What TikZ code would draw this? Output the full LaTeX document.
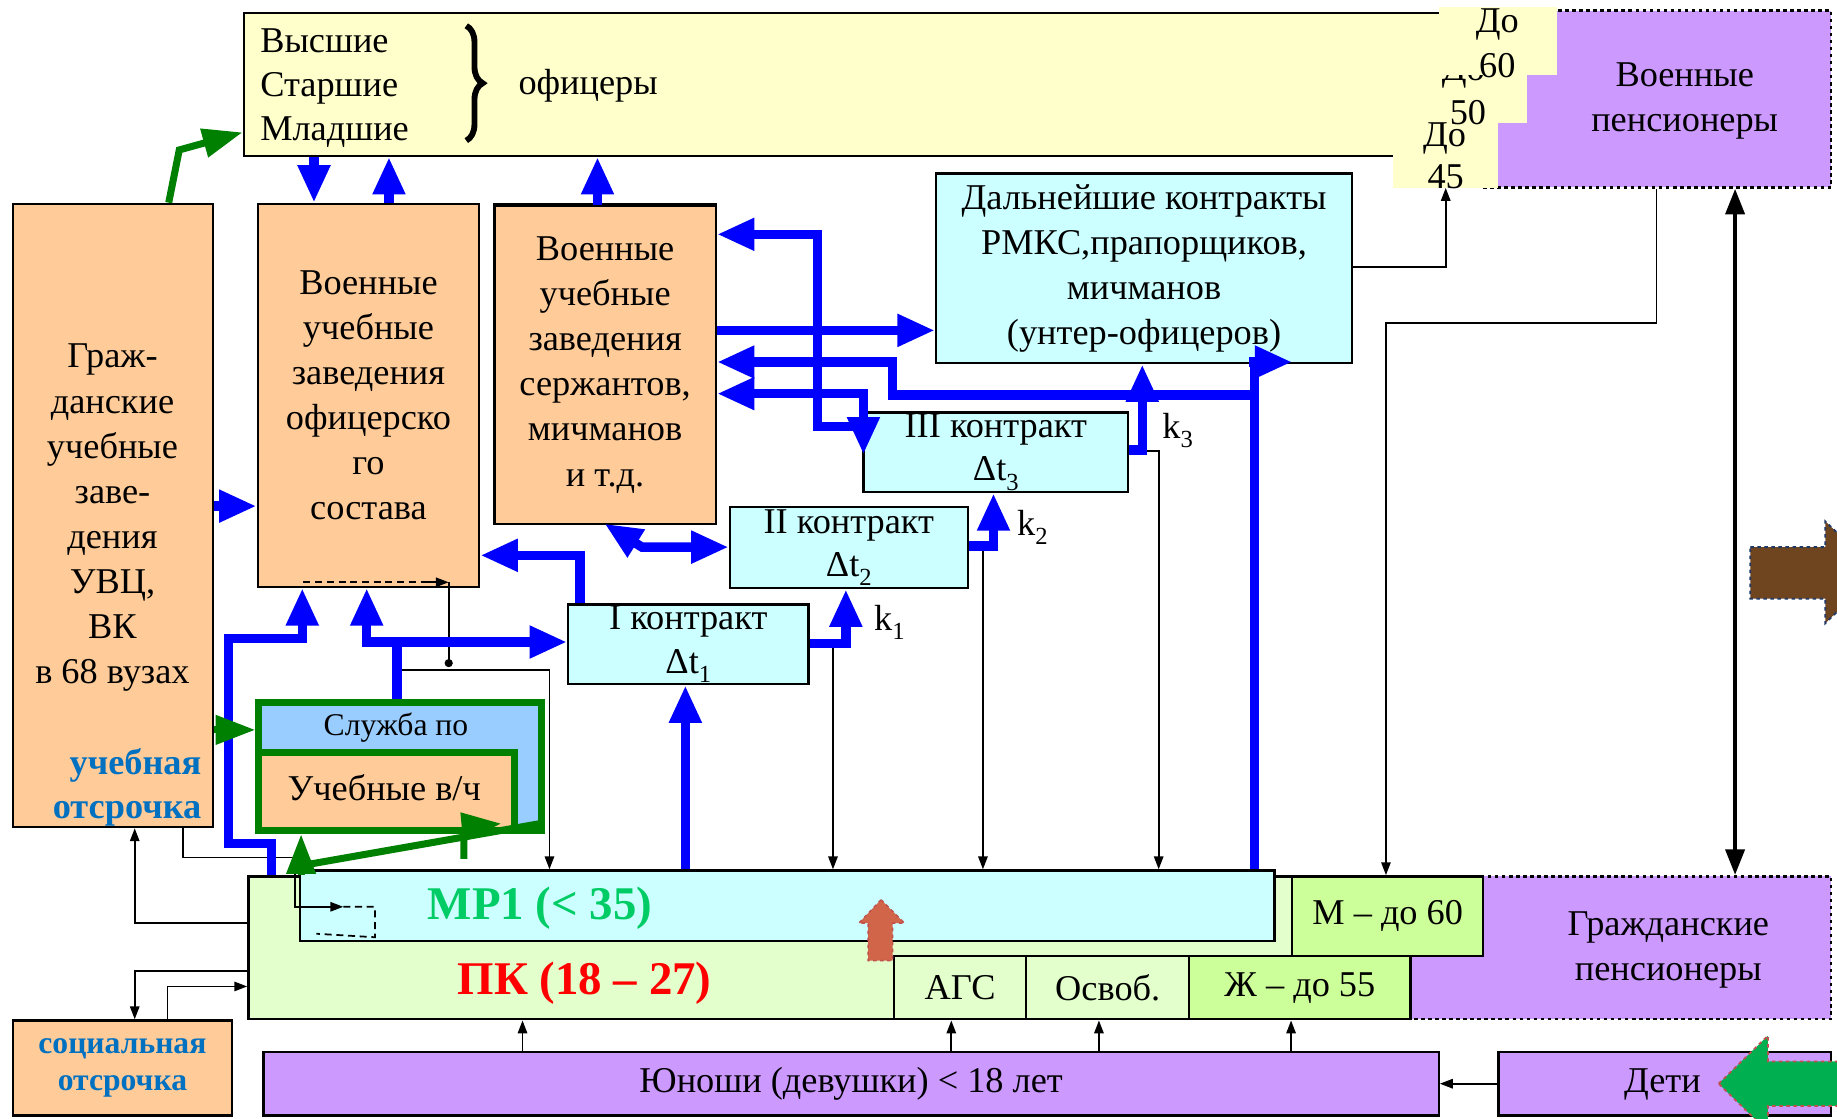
\documentclass[tikz,border=0pt]{standalone}
\usepackage{fontspec}
\setmainfont{Liberation Serif}
\usetikzlibrary{arrows.meta,decorations.pathreplacing}
\definecolor{yel}{HTML}{FFFFCC}
\definecolor{pur}{HTML}{CC99FF}
\definecolor{pea}{HTML}{FFCC99}
\definecolor{cya}{HTML}{CCFFFF}
\definecolor{lgr}{HTML}{E2FFCC}
\definecolor{mgr}{HTML}{CCFF99}
\definecolor{sblue}{HTML}{99CCFF}
\definecolor{bline}{HTML}{0000FF}
\definecolor{gline}{HTML}{008000}
\definecolor{mrtext}{HTML}{00CC66}
\definecolor{btext}{HTML}{0070C0}
\definecolor{brn}{HTML}{6F4520}
\definecolor{garr}{HTML}{00B050}
\definecolor{rarr}{HTML}{D0654A}
\definecolor{dblue}{HTML}{1F3864}
\definecolor{dred}{HTML}{C0504D}
\newcommand\mysub[1]{\raisebox{-8pt}{\fontsize{21}{21}\selectfont #1}}
\begin{document}
\begin{tikzpicture}[x=1pt,y=-1pt,
  bx/.style={draw, line width=2pt, inner sep=0pt, anchor=north west, font=\fontsize{31}{38.5}\selectfont, align=center},
  fl/.style={draw=none, inner sep=0pt, anchor=north west},
  tx/.style={inner sep=0pt, font=\fontsize{31}{38.5}\selectfont, align=center},
  th/.style={draw=black, line width=1.5pt, -{Triangle[length=11pt,width=8pt]}},
  bl/.style={draw=bline, line width=8pt, -{Triangle[length=32pt,width=26pt]}},
  blb/.style={draw=bline, line width=8pt, {Triangle[length=32pt,width=26pt]}-{Triangle[length=32pt,width=26pt]}},
  gr/.style={draw=gline, line width=6pt, -{Triangle[length=34pt,width=24pt]}},
  dsh/.style={line width=1.5pt, dash pattern=on 6pt off 4pt}
]
\useasboundingbox (0,0) rectangle (1568,955);
\clip (0,0) rectangle (1568,955);
\fill[white] (0,0) rectangle (1568,955);

% ---------- top row
\node[bx, fill=yel, minimum width=1053pt, minimum height=122pt] (top) at (207,10) {};
\node[bx, dashed, fill=pur, minimum width=297pt, minimum height=151pt] (vpens) at (1265,8) {};
\node[fl, fill=yel, minimum width=98pt, minimum height=60pt] (d2) at (1205,45) {};
\node[tx] (d2a) at (1249,62) {До};
\node[fl, fill=yel, minimum width=101pt, minimum height=58pt] (d1) at (1228,6) {};
\node[fl, fill=yel, minimum width=89pt, minimum height=56pt] (d3) at (1189,104) {};
\node[tx] (d1a) at (1278,21) {До};
\node[tx] (d1b) at (1278,56) {60};
\node[tx] (d2b) at (1253,96) {50};
\node[tx] (d3a) at (1233,118) {До};
\node[tx] (d3b) at (1234,151) {45};
\node[tx] (vpt) at (1438,86) {Военные\\пенсионеры};
\node[tx, align=left, anchor=west, font=\fontsize{31}{37.5}\selectfont] (ranks) at (222,75) {Высшие\\Старшие\\Младшие};
\node[tx] (ofc) at (502,73) {офицеры};
\draw[line width=5pt, decorate, decoration={brace, amplitude=14pt}] (398,22) -- (398,120);

% ---------- schools and contracts
\node[bx, fill=pea, minimum width=171pt, minimum height=532pt] (grazh) at (10,173) {};
\node[tx] (grazht) at (96,442) {Граж-\\данские\\учебные\\заве-\\дения\\УВЦ,\\ВК\\в 68 вузах};
\node[tx, align=right, anchor=east, text=btext, font=\fontsize{31}{38}\selectfont\bfseries] (uotsr) at (172,672) {учебная\\отсрочка};
\node[bx, fill=pea, minimum width=189pt, minimum height=327pt] (ofs) at (219,173) {Военные\\учебные\\заведения\\офицерско\\го\\состава};
\node[bx, fill=pea, minimum width=189pt, minimum height=271pt] (sgt) at (421,175) {Военные\\учебные\\заведения\\сержантов,\\мичманов\\и т.д.};
\draw[line width=3.5pt] (sgt.north west) -- (sgt.north east);
\node[bx, fill=cya, minimum width=355pt, minimum height=162pt] (dal) at (798,147) {Дальнейшие контракты\\РМКС,прапорщиков,\\мичманов\\(унтер-офицеров)};
\node[bx, fill=cya, minimum width=226pt, minimum height=68pt, font=\fontsize{31}{37}\selectfont] (k3box) at (736,351) {III контракт\\Δt\mysub{3}};
\node[bx, fill=cya, minimum width=203pt, minimum height=69pt, font=\fontsize{31}{37}\selectfont] (k2box) at (622,432) {II контракт\\Δt\mysub{2}};
\node[bx, fill=cya, minimum width=205pt, minimum height=68pt, font=\fontsize{31}{37}\selectfont] (k1box) at (484,515) {I контракт\\Δt\mysub{1}};
\node[tx, anchor=base west] (k1) at (746,538) {k\mysub{1}};
\node[tx, anchor=base west] (k2) at (868,457) {k\mysub{2}};
\node[tx, anchor=base west] (k3) at (992,374) {k\mysub{3}};

% ---------- service box
\node[bx, draw=gline, line width=6pt, fill=sblue, minimum width=241pt, minimum height=109pt] (sluzh) at (218,597) {};
\node[bx, draw=gline, line width=6pt, fill=pea, minimum width=218pt, minimum height=67pt] (uch) at (218,639) {};
\node[tx, font=\fontsize{27}{30}\selectfont] (sluzht) at (338,621) {Служба по};
\node[tx] (ucht) at (328,672) {Учебные в/ч};

% ---------- bottom blocks
\node[bx, dashed, fill=pur, minimum width=362pt, minimum height=122pt] (gpens) at (1200,747) {};
\node[bx, fill=lgr, minimum width=891pt, minimum height=122pt] (pk) at (211,747) {};
\node[bx, fill=cya, minimum width=832pt, minimum height=60pt] (mr1) at (255,742) {};
\node[bx, fill=mgr, minimum width=163pt, minimum height=68pt] (mbox) at (1102,747) {М – до 60};
\node[bx, fill=lgr, minimum width=113pt, minimum height=54pt] (ags) at (762,815) {АГС};
\node[bx, fill=lgr, minimum width=139pt, minimum height=54pt] (osv) at (875,815) {Освоб.};
\node[bx, fill=mgr, minimum width=189pt, minimum height=54pt] (zh) at (1014,815) {Ж – до 55};
\node[tx] (gpt) at (1424,811) {Гражданские\\пенсионеры};
\node[tx, text=mrtext, font=\fontsize{40}{44}\selectfont\bfseries] (mr1t) at (461,775) {МР1 (< 35)};
\node[tx, text=red, font=\fontsize{40}{44}\selectfont\bfseries] (pkt) at (499,839) {ПК (18 – 27)};
\node[bx, fill=pur, minimum width=1003pt, minimum height=54pt] (yun) at (224,897) {Юноши (девушки) < 18 лет};
\node[bx, fill=pur, minimum width=284pt, minimum height=54pt] (deti) at (1278,897) {};
\node[tx] (detit) at (1419,926) {Дети};
\node[bx, fill=pea, minimum width=187pt, minimum height=81pt, text=btext, font=\fontsize{27}{32}\selectfont\bfseries] (soc) at (10,870) {социальная\\отсрочка};

% ---------- thin black connectors
\draw[dsh] (259,497) -- (372,497);
\draw[th] (362,497) -- (383,497);
\draw[line width=1.5pt] (383,497) -- (383,566);
\fill (383,566) circle (3.5pt);
\draw[th] (339,0 |- sluzh.north) -- (339,572) -- (469,572) -- (469,0 |- mr1.north);
\draw[th] (k1box.east |- 0,549) -- (711,549) -- (711,0 |- mr1.north);
\draw[th] (k2box.east |- 0,467) -- (839,467) -- (839,0 |- mr1.north);
\draw[th] (k3box.east |- 0,385) -- (989,385) -- (989,0 |- mr1.north);
\draw[th] (dal.east |- 0,228) -- (1234,228) -- (1234,0 |- d3.south);
\draw[th] (1414,0 |- vpens.south) -- (1414,276) -- (1183,276) -- (1183,0 |- mbox.north);
\draw[draw=black, line width=4pt, {Triangle[length=22pt,width=16pt]}-{Triangle[length=22pt,width=16pt]}] (1481,0 |- vpens.south) -- (1481,0 |- gpens.north);
\draw[th] (156,0 |- grazh.south) -- (156,732) -- (252,732) -- (252,774) -- (293,774);
\draw[dsh] (293,774) -- (320,774) -- (320,800) -- (270,797);
\draw[th] (pk.west |- 0,788) -- (115,788) -- (115,0 |- grazh.south);
\draw[th] (pk.west |- 0,829) -- (115,829) -- (115,0 |- soc.north);
\draw[th] (143,0 |- soc.north) -- (143,842) -- (pk.west |- 0,842);
\draw[th] (446,0 |- yun.north) -- (446,0 |- pk.south);
\draw[th] (812,0 |- yun.north) -- (812,0 |- ags.south);
\draw[th] (938,0 |- yun.north) -- (938,0 |- osv.south);
\draw[th] (1102,0 |- yun.north) -- (1102,0 |- zh.south);
\draw[th] (deti.west) -- (yun.east);

% ---------- blue connectors
\draw[bl] (268,0 |- top.south) -- (268,0 |- ofs.north);
\draw[bl] (332,0 |- ofs.north) -- (332,0 |- top.south);
\draw[bl] (510,0 |- sgt.north) -- (510,0 |- top.south);
\draw[bl] (grazh.east |- 0,432) -- (ofs.west |- 0,432);
\draw[bl] (232,0 |- pk.north) -- (232,720) -- (195,720) -- (195,545) -- (258,545) -- (258,0 |- ofs.south);
\draw[bl,-] (339,0 |- sluzh.north) -- (339,544);
\draw[blb] (313,0 |- ofs.south) -- (313,548) -- (k1box.west |- 0,548);
\draw[bl] (495,0 |- k1box.north) -- (495,474) -- (ofs.east |- 0,474);
\draw[bl] (k1box.east |- 0,549) -- (722,549) -- (722,0 |- k2box.south);
\draw[bl] (k2box.east |- 0,466) -- (848,466) -- (848,0 |- k3box.south);
\draw[bl] (k3box.east |- 0,384) -- (975,384) -- (975,0 |- dal.south);
\draw[bl,-] (1071,0 |- mr1.north) -- (1071,305);
\draw[bl] (1066,309) -- (1103,309);
\draw[bl] (1071,337) -- (762,337) -- (762,309) -- (sgt.east |- 0,309);
\draw[bl] (sgt.east |- 0,282) -- (dal.west |- 0,282);
\draw[bl] (737,364) -- (698,364) -- (698,200) -- (sgt.east |- 0,200);
\draw[blb] (sgt.east |- 0,336) -- (737,336) -- (737,388);
\draw[blb] (516,447) -- (548,467) -- (k2box.west |- 0,467);
\draw[bl] (585,0 |- mr1.north) -- (585,0 |- k1box.south);

% ---------- green connectors
\draw[gr] (144,0 |- grazh.north) -- (153,128) -- (top.west |- 0,113);
\draw[gr] (grazh.east |- 0,623) -- (sluzh.west |- 0,623);
\draw[gr] (257,0 |- pk.north) -- (257,0 |- uch.south);
\draw[gr,-] (262,738) -- (461,703);
\draw[gr] (396,733) -- (396,706) -- (428,703);

% ---------- block arrows
\draw[fill=brn, draw=dblue, dashed, line width=1.5pt] (1494,467) -- (1558,467) -- (1558,445) -- (1603,488) -- (1558,532) -- (1558,511) -- (1494,511) -- cycle;
\draw[fill=garr, draw=dred, dashed, line width=1.5pt] (1467,925) -- (1509,884) -- (1509,906) -- (1600,906) -- (1600,944) -- (1509,944) -- (1509,966) -- cycle;
\draw[fill=rarr, draw=dred, dashed, line width=1.2pt] (752,768) -- (772,788) -- (762,788) -- (762,820) -- (741,820) -- (741,788) -- (733,788) -- cycle;
\end{tikzpicture}
\end{document}
